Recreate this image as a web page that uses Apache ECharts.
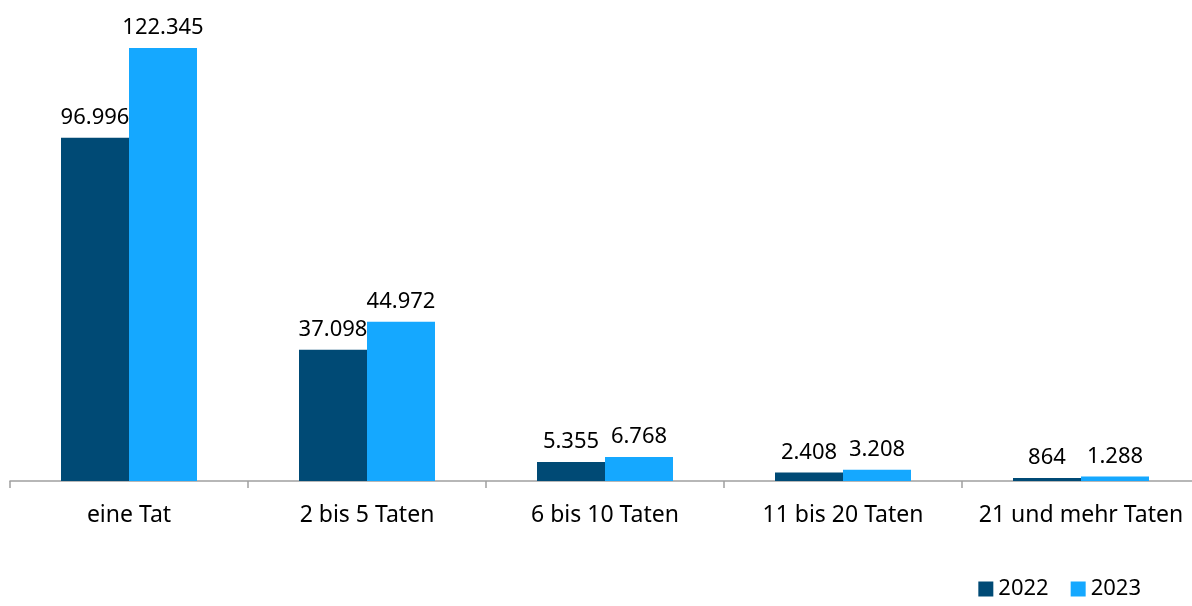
<!DOCTYPE html>
<html><head><meta charset="utf-8">
<script src="https://cdn.jsdelivr.net/npm/echarts@6/dist/echarts.min.js"></script>
<style>html,body{margin:0;padding:0;background:#fff}#c{width:1192px;height:606px}</style>
</head><body><div id="c"></div>
<script>
var categories = ["eine Tat", "2 bis 5 Taten", "6 bis 10 Taten", "11 bis 20 Taten", "21 und mehr Taten"];
var values2022 = [96996, 37098, 5355, 2408, 864];
var values2023 = [122345, 44972, 6768, 3208, 1288];
var seriesNames = ["2022", "2023"];

var fmt = function (p) { return p.value.toString().replace(/\B(?=(\d{3})+(?!\d))/g, "."); };
var font = "'Noto Sans', sans-serif";
var chart = echarts.init(document.getElementById('c'));
chart.setOption({
  animation: false,
  textStyle: { fontFamily: font },
  grid: { left: 10, top: 48, width: 1190, height: 433, containLabel: false, outerBoundsMode: 'none' },
  legend: {
    data: seriesNames, right: 46, bottom: 1, itemWidth: 15, itemHeight: 15, itemGap: 22,
    icon: 'rect', textStyle: { fontSize: 22, color: '#000', fontFamily: font }
  },
  xAxis: {
    type: 'category', data: categories,
    axisLine: { lineStyle: { color: '#a0a0a0', width: 1.5 } },
    axisTick: { show: true, interval: 0, length: 7, lineStyle: { color: '#a0a0a0', width: 1.5 } },
    axisLabel: { interval: 0, hideOverlap: false, fontSize: 23, color: '#000', margin: 23, fontFamily: font }
  },
  yAxis: { type: 'value', min: 0, max: 122345, show: false, splitLine: { show: false } },
  series: [
    { name: seriesNames[0], type: 'bar', data: values2022, barWidth: 68, barGap: '0%',
      itemStyle: { color: '#004a75' },
      label: { show: true, position: 'top', distance: 9, fontSize: 22, color: '#000', formatter: fmt, fontFamily: font } },
    { name: seriesNames[1], type: 'bar', data: values2023, barWidth: 68,
      itemStyle: { color: '#15a8ff' },
      label: { show: true, position: 'top', distance: 9, fontSize: 22, color: '#000', formatter: fmt, fontFamily: font } }
  ]
});
</script></body></html>
